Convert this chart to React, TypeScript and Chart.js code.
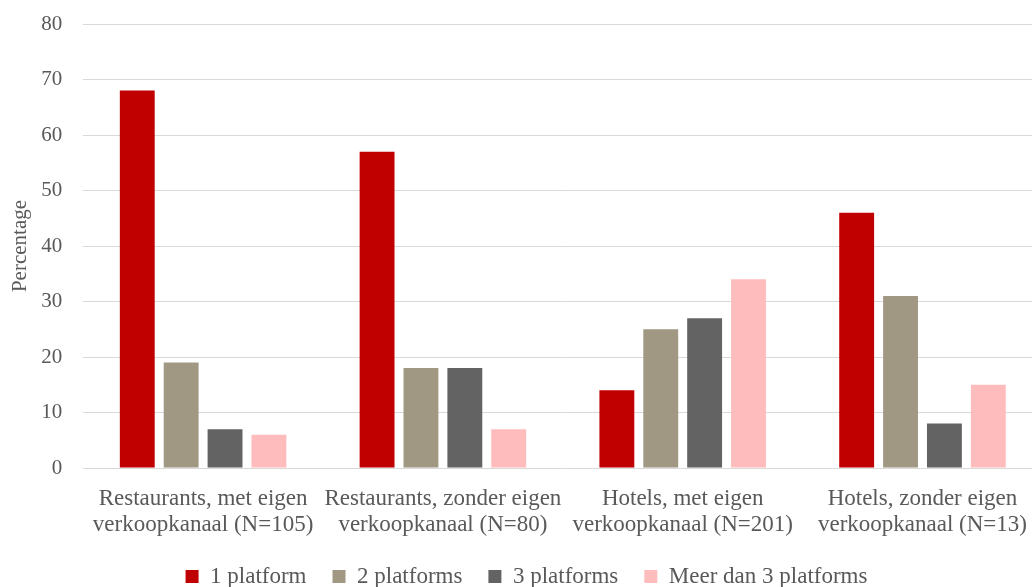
import React, { useEffect, useRef } from "react";
import { Chart, registerables } from "chart.js";

Chart.register(...registerables);

const categories: string[][] = [
  ["Restaurants, met eigen", "verkoopkanaal (N=105)"],
  ["Restaurants, zonder eigen", "verkoopkanaal (N=80)"],
  ["Hotels, met eigen", "verkoopkanaal (N=201)"],
  ["Hotels, zonder eigen", "verkoopkanaal (N=13)"],
];
const seriesNames = ["1 platform", "2 platforms", "3 platforms", "Meer dan 3 platforms"];
const onePlatform = [68, 57, 14, 46];
const twoPlatforms = [19, 18, 25, 31];
const threePlatforms = [7, 18, 27, 8];
const moreThanThree = [6, 7, 34, 15];
const yTicks = [0, 10, 20, 30, 40, 50, 60, 70, 80];
const colors = ["#C00000", "#A09882", "#636363", "#FFBCBC"];

const FONT = "'Liberation Serif', 'DejaVu Serif', serif";

const LEGEND_SHRINK = 16;
const LEGEND_SHIFT = 17;

const legendShrink = {
  id: "legendShrink",
  beforeLayout(chart: any) {
    const lg = chart.legend;
    if (lg && !lg._shrinkPatched) {
      const origFit = lg.fit.bind(lg);
      lg.fit = function () {
        origFit();
        this.height = Math.max(0, this.height - LEGEND_SHRINK);
      };
      const origDraw = lg.draw.bind(lg);
      lg.draw = function () {
        this.top -= LEGEND_SHIFT;
        origDraw();
        this.top += LEGEND_SHIFT;
      };
      lg._shrinkPatched = true;
    }
  },
};

export default function App() {
  const ref = useRef<HTMLCanvasElement | null>(null);
  useEffect(() => {
    if (!ref.current) return;
    const values = [onePlatform, twoPlatforms, threePlatforms, moreThanThree];
    const chart = new Chart(ref.current, {
      type: "bar",
      plugins: [legendShrink],
      data: {
        labels: categories,
        datasets: seriesNames.map((name, i) => ({
          label: name,
          data: values[i],
          backgroundColor: colors[i],
          borderWidth: 0,
          categoryPercentage: 0.732,
          barPercentage: 0.795,
        })),
      },
      options: {
        animation: false,
        responsive: false,
        maintainAspectRatio: false,
        layout: { padding: { left: 8, right: 0, top: 24, bottom: -12 } },
        plugins: {
          legend: {
            position: "bottom",
            labels: {
              boxWidth: 13,
              boxHeight: 13,
              padding: 26,
              color: "#595959",
              font: { family: FONT, size: 23 },
            },
          },
          tooltip: { enabled: false },
        },
        scales: {
          x: {
            grid: { display: false, drawTicks: false },
            border: { display: false },
            ticks: {
              color: "#595959",
              font: { family: FONT, size: 23, lineHeight: 1.13 },
              maxRotation: 0,
              autoSkip: false,
              padding: 18,
            },
          },
          y: {
            min: 0,
            max: 80,
            afterBuildTicks: (axis: any) => {
              axis.ticks = yTicks.map((v) => ({ value: v }));
            },
            grid: {
              color: "#D9D9D9",
              lineWidth: 1,
              drawTicks: true,
              tickLength: 21,
              tickColor: "rgba(0,0,0,0)",
            },
            border: { display: false },
            ticks: {
              color: "#595959",
              font: { family: FONT, size: 21 },
              padding: 0,
            },
            title: {
              display: true,
              text: "Percentage",
              color: "#595959",
              font: { family: FONT, size: 21 },
              padding: { top: 0, bottom: 8 },
            },
          },
        },
      },
    });
    return () => chart.destroy();
  }, []);
  return (
    <div
      style={{
        position: "fixed",
        left: 0,
        top: 0,
        width: 1032,
        height: 587,
        overflow: "hidden",
        background: "#fff",
      }}
    >
      <canvas ref={ref} width={1045} height={587} style={{ display: "block" }} />
    </div>
  );
}
